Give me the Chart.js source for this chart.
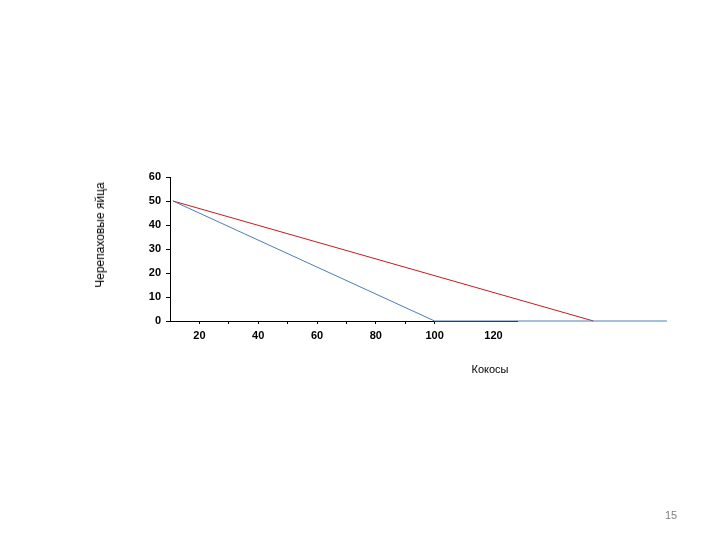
<!DOCTYPE html>
<html>
<head>
<meta charset="utf-8">
<script src="https://cdn.jsdelivr.net/npm/chart.js@4"></script>
<style>
  html, body { margin: 0; padding: 0; background: #fff; }
  #wrap { position: relative; width: 720px; height: 540px; }
  #c { position: absolute; left: 0; top: 0; }
  .lbl { position: absolute; font-family: "Liberation Sans", Arial, sans-serif; font-size: 11px; color: #000; white-space: nowrap; }
  #ytitle { left: 100px; top: 235px; font-size: 12px; transform: translate(-50%, -50%) rotate(-90deg); }
  #xtitle { left: 490px; top: 369px; transform: translate(-50%, -50%); }
  #page { left: 671px; top: 515px; transform: translate(-50%, -50%); color: #7f7f7f; font-size: 11px; }
</style>
</head>
<body>
<div id="wrap">
  <canvas id="c" width="720" height="540"></canvas>
  <div class="lbl" id="ytitle">Черепаховые яйца</div>
  <div class="lbl" id="xtitle">Кокосы</div>
  <div class="lbl" id="page">15</div>
</div>
<script>
// blue frontier (with run along the axis) and red frontier
const blueX = [11, 100, 179];
const blueY = [50, 0, 0];
const redX = [11, 154];
const redY = [50, 0];

const xTickLabels = [20, 40, 60, 80, 100, 120];
const yTicks = [0, 10, 20, 30, 40, 50, 60];

const toPts = (xs, ys) => xs.map((x, i) => ({ x, y: ys[i] }));

const ctx = document.getElementById('c').getContext('2d');
new Chart(ctx, {
  type: 'line',
  data: {
    datasets: [
      {
        label: 'blue',
        data: toPts(blueX, blueY),
        borderColor: '#4a7ebb',
        borderWidth: 1,
        pointRadius: 0,
        tension: 0,
        clip: false,
      },
      {
        label: 'red',
        data: toPts(redX, redY),
        borderColor: '#be1e1e',
        borderWidth: 1,
        pointRadius: 0,
        tension: 0,
        clip: false,
      },
    ],
  },
  options: {
    responsive: false,
    animation: false,
    layout: { padding: { left: 140, top: 177, right: 203, bottom: 189 } },
    scales: {
      x: {
        type: 'linear',
        min: 10,
        max: 128,
        afterBuildTicks: (s) => {
          s.ticks = [];
          for (let v = 20; v <= 120; v += 10) s.ticks.push({ value: v });
        },
        afterFit: (s) => { s.height = 30; },
        border: { display: true, color: '#000', width: 1 },
        grid: {
          drawOnChartArea: false,
          tickLength: 3,
          color: (c) => (c.tick && c.tick.value <= 100 ? '#000' : 'rgba(0,0,0,0)'),
        },
        ticks: {
          autoSkip: false,
          maxRotation: 0,
          padding: 5,
          color: '#000',
          font: { family: '"Liberation Sans", Arial, sans-serif', size: 11, weight: 'bold' },
          callback: (v) => (xTickLabels.includes(v) ? String(v) : ''),
        },
      },
      y: {
        min: 0,
        max: 60,
        afterBuildTicks: (s) => { s.ticks = yTicks.map((v) => ({ value: v })); },
        afterFit: (s) => { s.width = 30; },
        border: { display: true, color: '#000', width: 1 },
        grid: { drawOnChartArea: false, tickLength: 4, color: '#000' },
        ticks: {
          padding: 5,
          color: '#000',
          font: { family: '"Liberation Sans", Arial, sans-serif', size: 11, weight: 'bold' },
        },
      },
    },
    plugins: {
      legend: { display: false },
      tooltip: { enabled: false },
    },
  },
});
</script>
</body>
</html>
